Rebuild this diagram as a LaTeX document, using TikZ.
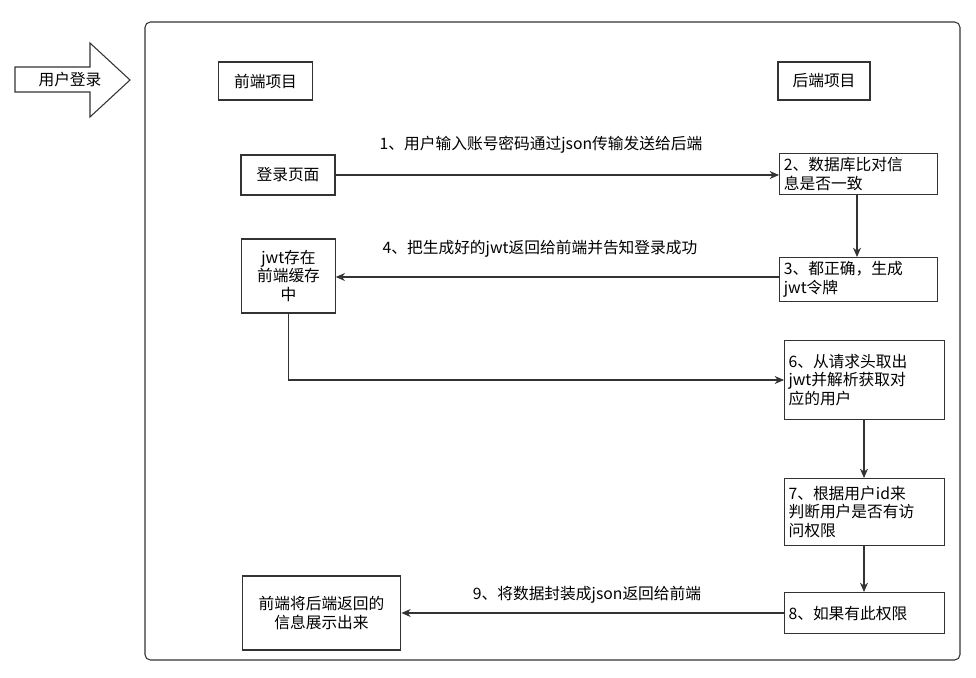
\documentclass[tikz,border=0pt]{standalone}
\usepackage{fontspec}
\setmainfont{Noto Sans CJK SC}
\usetikzlibrary{positioning,arrows.meta}

\begin{document}
\begin{tikzpicture}[x=0.75pt,y=-0.75pt,font=\fontsize{11.8}{14}\selectfont]
  \tikzset{box/.style={draw=black!80, thick, inner sep=0pt, align=center}}
  \tikzset{note/.style={draw=black!80, thick, inner sep=3pt, align=left, anchor=north west}}
  \tikzset{flow/.style={draw=black!80, thick, -{Stealth[length=7pt,width=6pt]}}}
  \tikzset{lbl/.style={inner sep=0pt}}
  \useasboundingbox (0,0) rectangle (976,678);
  % outer frame and entry arrow
  \draw[black!80, thick, rounded corners=4pt] (145,22) rectangle (960,660);
  \draw[black!80, thick] (15,67) -- (90,67) -- (90,43) -- (130,80) -- (90,117) -- (90,92) -- (15,92) -- cycle;
  \node (login) at (70,80) {用户登录};
  % headers
  \node[box, minimum width=70pt, minimum height=28.5pt] (front) at (265.5,81) {前端项目};
  \node[box, minimum width=69pt, minimum height=28.5pt] (back) at (824,81) {后端项目};
  % frontend nodes
  \node[box, minimum width=70.5pt, minimum height=30pt] (page) at (288,175) {登录页面};
  \node[box, minimum width=70pt, minimum height=55.5pt, text width=64pt] (cache) at (288.5,276) {jwt存在\\前端缓存\\中};
  \node[box, minimum width=119pt, minimum height=55.5pt] (show) at (321.5,613) {前端将后端返回的\\信息展示出来};
  % backend nodes
  \node[note, minimum width=118.5pt, minimum height=30pt, text width=112pt] (check) at (779,153) {2、数据库比对信\\息是否一致};
  \node[note, minimum width=118.5pt, minimum height=30pt, text width=112pt] (token) at (779,257) {3、都正确，生成\\jwt令牌};
  \node[note, minimum width=120pt, minimum height=59pt, text width=114pt] (parse) at (784,340) {6、从请求头取出\\jwt并解析获取对\\应的用户};
  \node[note, minimum width=120pt, minimum height=50pt, text width=114pt] (auth) at (784,478) {7、根据用户id来\\判断用户是否有访\\问权限};
  \node[note, minimum width=120pt, minimum height=31pt, text width=114pt] (perm) at (784,592) {8、如果有此权限};
  % connectors
  \draw[flow] (page.east) -- (page.east -| check.west);
  \node[lbl] (l1) at (541,145) {1、用户输入账号密码通过json传输发送给后端};
  \draw[flow] (check.south -| 857,0) -- (token.north -| 857,0);
  \draw[flow] (token.west |- 0,277) -- (cache.east |- 0,277);
  \node[lbl] (l4) at (540,249) {4、把生成好的jwt返回给前端并告知登录成功};
  \draw[flow] (cache.south) |- (parse.west |- 0,380);
  \draw[flow] (parse.south -| 864,0) -- (auth.north -| 864,0);
  \draw[flow] (auth.south -| 864,0) -- (perm.north -| 864,0);
  \draw[flow] (perm.west |- show.east) -- (show.east);
  \node[lbl] (l9) at (587,595) {9、将数据封装成json返回给前端};
\end{tikzpicture}
\end{document}
